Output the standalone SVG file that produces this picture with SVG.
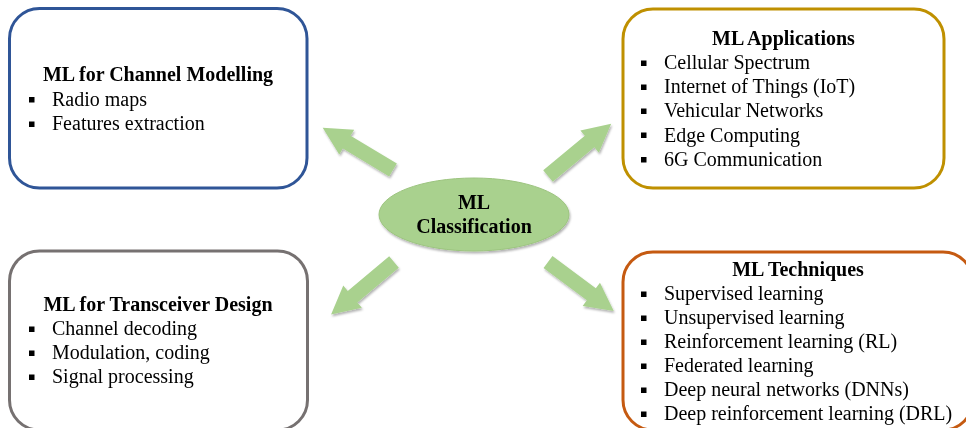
<svg xmlns="http://www.w3.org/2000/svg" xmlns:xlink="http://www.w3.org/1999/xlink" width="966" height="428" viewBox="0 0 966 428">
  <style>
    .box { fill: #ffffff; stroke-width: 3; }
    .title { font-family: "Liberation Serif", "Times New Roman", serif; font-size: 20px; font-weight: bold; fill: #000000; text-anchor: middle; }
    .item { font-family: "Liberation Serif", "Times New Roman", serif; font-size: 20px; fill: #000000; }
    .bullet { fill: #000000; }
    .green { fill: #a9d18e; }
  </style>
  <defs>
    <filter id="shadow" x="-20%" y="-20%" width="140%" height="150%">
      <feDropShadow dx="1" dy="2" stdDeviation="1.2" flood-color="#000000" flood-opacity="0.3"/>
    </filter>
    <!-- block arrow pointing along +x, tail centred at the origin -->
    <path id="blockArrow" d="M0,-7.5 L54,-7.5 L54,-14.5 L82,0 L54,14.5 L54,7.5 L0,7.5 Z"/>
  </defs>

  <!-- connectors -->
  <g id="connectors" class="green" filter="url(#shadow)">
    <use xlink:href="#blockArrow" transform="translate(393,170) rotate(211)"/>
    <use xlink:href="#blockArrow" transform="translate(548,176) rotate(-39.6)"/>
    <use xlink:href="#blockArrow" transform="translate(394,262) rotate(140.1)"/>
    <use xlink:href="#blockArrow" transform="translate(548,262) rotate(36.7)"/>
  </g>

  <!-- central node -->
  <g id="ml-classification">
    <ellipse cx="474" cy="214.5" rx="95" ry="36.5" fill="#a9d18e" stroke="#9cc47f" stroke-width="1" filter="url(#shadow)"/>
    <text class="title" x="474" y="209">ML</text>
    <text class="title" x="474" y="233">Classification</text>
  </g>

  <!-- top-left node -->
  <g id="channel-modelling">
    <rect class="box" x="9.5" y="8.5" width="297.5" height="179.5" rx="30" stroke="#2f5597"/>
    <text class="title" x="158" y="81">ML for Channel Modelling</text>
    <rect class="bullet" x="29" y="97" width="5.5" height="5.5"/>
    <text class="item" x="52" y="105.5">Radio maps</text>
    <rect class="bullet" x="29" y="121.5" width="5.5" height="5.5"/>
    <text class="item" x="52" y="130">Features extraction</text>
  </g>

  <!-- top-right node -->
  <g id="ml-applications">
    <rect class="box" x="623" y="9" width="321" height="179" rx="30" stroke="#bf9000"/>
    <text class="title" x="783.5" y="45">ML Applications</text>
    <rect class="bullet" x="641" y="60.5" width="5.5" height="5.5"/>
    <text class="item" x="664" y="69">Cellular Spectrum</text>
    <rect class="bullet" x="641" y="84.5" width="5.5" height="5.5"/>
    <text class="item" x="664" y="93">Internet of Things (IoT)</text>
    <rect class="bullet" x="641" y="108.5" width="5.5" height="5.5"/>
    <text class="item" x="664" y="117">Vehicular Networks</text>
    <rect class="bullet" x="641" y="132.5" width="5.5" height="5.5"/>
    <text class="item" x="664" y="141.5">Edge Computing</text>
    <rect class="bullet" x="641" y="157" width="5.5" height="5.5"/>
    <text class="item" x="664" y="165.5">6G Communication</text>
  </g>

  <!-- bottom-left node -->
  <g id="transceiver-design">
    <rect class="box" x="9.5" y="251" width="298" height="179" rx="30" stroke="#767171"/>
    <text class="title" x="158" y="311">ML for Transceiver Design</text>
    <rect class="bullet" x="29" y="326.5" width="5.5" height="5.5"/>
    <text class="item" x="52" y="335">Channel decoding</text>
    <rect class="bullet" x="29" y="350.5" width="5.5" height="5.5"/>
    <text class="item" x="52" y="359">Modulation, coding</text>
    <rect class="bullet" x="29" y="374.5" width="5.5" height="5.5"/>
    <text class="item" x="52" y="383">Signal processing</text>
  </g>

  <!-- bottom-right node -->
  <g id="ml-techniques">
    <rect class="box" x="623" y="252" width="350" height="178" rx="30" stroke="#c55a11"/>
    <text class="title" x="798" y="275.5">ML Techniques</text>
    <rect class="bullet" x="641" y="291.5" width="5.5" height="5.5"/>
    <text class="item" x="664" y="300">Supervised learning</text>
    <rect class="bullet" x="641" y="315.5" width="5.5" height="5.5"/>
    <text class="item" x="664" y="324">Unsupervised learning</text>
    <rect class="bullet" x="641" y="339.5" width="5.5" height="5.5"/>
    <text class="item" x="664" y="348">Reinforcement learning (RL)</text>
    <rect class="bullet" x="641" y="363.5" width="5.5" height="5.5"/>
    <text class="item" x="664" y="372">Federated learning</text>
    <rect class="bullet" x="641" y="387.5" width="5.5" height="5.5"/>
    <text class="item" x="664" y="396">Deep neural networks (DNNs)</text>
    <rect class="bullet" x="641" y="411.5" width="5.5" height="5.5"/>
    <text class="item" x="664" y="420">Deep reinforcement learning (DRL)</text>
  </g>
</svg>
